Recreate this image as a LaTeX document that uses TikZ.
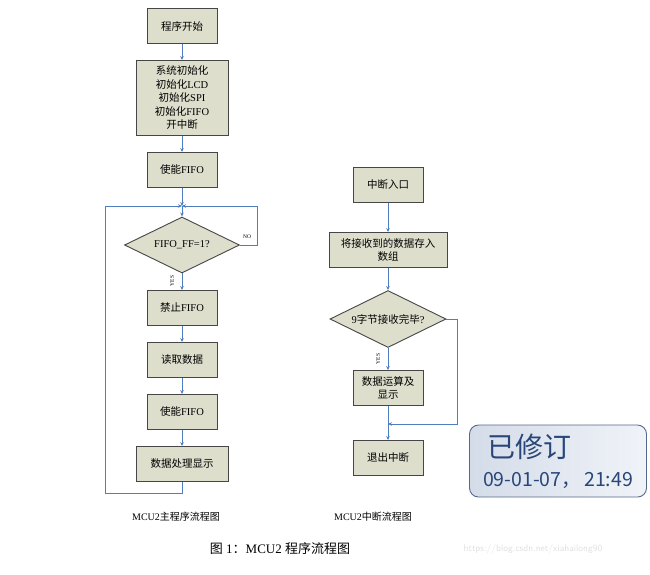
\documentclass[tikz,border=0pt]{standalone}
\usepackage{fontspec}
\setmainfont{Liberation Serif}
\newfontfamily\cjk{Noto Sans CJK SC}
\usetikzlibrary{shapes.geometric,arrows.meta}

\definecolor{boxfill}{RGB}{221,222,204}
\definecolor{boxline}{RGB}{70,70,70}
\definecolor{flowline}{RGB}{79,125,190}
\definecolor{tagline}{RGB}{85,105,140}
\definecolor{tagleft}{RGB}{212,220,233}
\definecolor{tagright}{RGB}{240,243,248}
\definecolor{tagtext}{RGB}{40,70,120}

\tikzset{
  flowbox/.style={draw=boxline,fill=boxfill,line width=0.9pt,minimum width=70,minimum height=35,
    inner sep=2pt,align=center,font=\fontsize{10.5}{13.5}\selectfont},
  testbox/.style={draw=boxline,fill=boxfill,line width=0.9pt,diamond,aspect=2,inner sep=0pt,
    font=\fontsize{10.5}{13}\selectfont},
  flow/.style={draw=flowline,line width=0.8pt,-{Stealth[length=4pt,width=3.5pt]}},
  tiny/.style={font=\fontsize{5.5}{6}\selectfont,inner sep=0pt},
  caption/.style={font=\fontsize{10}{12}\selectfont},
}

\begin{document}
\begin{tikzpicture}[x=1pt,y=-1pt]
    \useasboundingbox (0,0) rectangle (650,574);

    % main program
    \node[flowbox] (start) at (182,26) {\cjk 程序开始};
    \node[flowbox,minimum width=92,minimum height=75] (init) at (182,98)
        {{\cjk 系统初始化}\\{\cjk 初始化}LCD\\{\cjk 初始化}SPI\\{\cjk 初始化}FIFO\\{\cjk 开中断}};
    \node[flowbox] (en1) at (182,170) {{\cjk 使能}FIFO};
    \coordinate (join) at (182,206);
    \node[testbox,minimum width=115,minimum height=56] (full) at (182,245) {FIFO\_FF=1?};
    \node[flowbox] (stop) at (182,308) {{\cjk 禁止}FIFO};
    \node[flowbox] (read) at (182,360) {\cjk 读取数据};
    \node[flowbox] (en2) at (182,412) {{\cjk 使能}FIFO};
    \node[flowbox,minimum width=92] (show) at (182,464) {\cjk 数据处理显示};

    \draw[flow] (start) -- (init);
    \draw[flow] (init) -- (en1);
    \draw[flow] (en1) -- (join);
    \draw[flow] (join) -- (full);
    \draw[flow] (full.east) -- ++(17,0) |- (join);
    \node[tiny] (no) at (247,237) {NO};
    \draw[flow] (full) -- (stop);
    \node[tiny,rotate=90] (yes) at (172,281) {YES};
    \draw[flow] (stop) -- (read);
    \draw[flow] (read) -- (en2);
    \draw[flow] (en2) -- (show);
    \draw[flow] (show.south) |- ++(-77,11) |- (join);

    % interrupt
    \node[flowbox] (entry) at (388,185) {\cjk 中断入口};
    \node[flowbox,minimum width=118] (store) at (388,250) {{\cjk 将接收到的数据存入}\\{\cjk 数组}};
    \node[testbox,minimum width=116,minimum height=57] (done) at (388,319) {9{\cjk 字节接收完毕}?};
    \node[flowbox] (calc) at (388,388) {{\cjk 数据运算及}\\{\cjk 显示}};
    \coordinate (merge) at (388,424);
    \node[flowbox] (quit) at (388,458) {\cjk 退出中断};

    \draw[flow] (entry) -- (store);
    \draw[flow] (store) -- (done);
    \draw[flow] (done) -- (calc);
    \node[tiny,rotate=90] (yes2) at (378,359) {YES};
    \draw[flow] (calc) -- (quit);
    \draw[flow] (done.east) -- ++(11,0) |- (merge);

    % revision tag
    \node[draw=tagline,line width=0.9pt,rounded corners=9,left color=tagleft,right color=tagright,
        minimum width=177,minimum height=72,align=left,inner sep=3pt,text=tagtext,
        font=\cjk\fontsize{19.5}{28}\selectfont] (tag) at (558,461)
        {\hspace*{4pt}{\fontsize{28}{30}\selectfont 已修订}\\[1pt]09-01-07，\,21:49};

    % captions
    \node[caption] (cap1) at (176,517) {MCU2{\cjk 主程序流程图}};
    \node[caption] (cap2) at (373,517) {MCU2{\cjk 中断流程图}};
    \node[font=\fontsize{13}{15}\selectfont] (cap3) at (280,549) {{\cjk 图} 1{\cjk ：}MCU2 {\cjk 程序流程图}};
    \node[font=\sffamily\fontsize{9.5}{10}\selectfont,text=gray!25] (mark) at (533,549) {https://blog.csdn.net/xiahailong90};
\end{tikzpicture}
\end{document}
